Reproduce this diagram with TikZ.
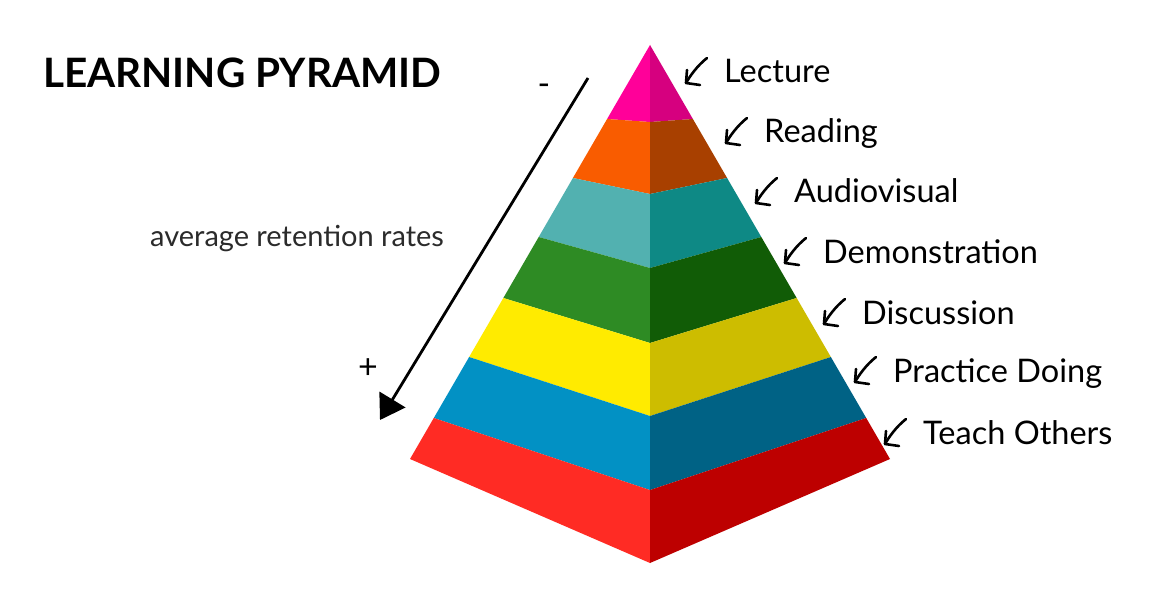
\documentclass[tikz,border=0pt]{standalone}
\usepackage{fontspec}
\setmainfont{Lato}
\usetikzlibrary{arrows.meta}
\definecolor{pinkL}{HTML}{FF0099}\definecolor{pinkR}{HTML}{D6007F}
\definecolor{oranL}{HTML}{F95C00}\definecolor{oranR}{HTML}{A84000}
\definecolor{tealL}{HTML}{52B1B0}\definecolor{tealR}{HTML}{0E8985}
\definecolor{grenL}{HTML}{2E8B24}\definecolor{grenR}{HTML}{115C06}
\definecolor{yellL}{HTML}{FFEB00}\definecolor{yellR}{HTML}{CDBD00}
\definecolor{blueL}{HTML}{0291C4}\definecolor{blueR}{HTML}{006285}
\definecolor{redL}{HTML}{FF2B24}\definecolor{redR}{HTML}{BD0000}
\definecolor{subgray}{HTML}{2B2B2B}
% #1 top edge y, #2 top centre y, #3 bottom edge y, #4 bottom centre y, #5 left colour, #6 right colour
\newcommand\pyrlayer[6]{%
  \fill[#5] ({650-0.5797*(#1-45)},#1) -- (650,#2) -- (650,#4) -- ({650-0.5797*(#3-45)},#3) -- cycle;
  \fill[#6] ({650+0.5797*(#1-45)},#1) -- (650,#2) -- (650,#4) -- ({650+0.5797*(#3-45)},#3) -- cycle;
}
\tikzset{
  lbl/.style={anchor=base west, inner sep=0pt, font=\fontsize{32.5}{38}\selectfont, text=black},
  hand/.style={line width=2.6pt, line cap=round, line join=round, black},
}
\newcommand\handarrow[1]{%
  \draw[hand] ([shift={(-17,-25)}]#1.base west) .. controls ([shift={(-27,-17)}]#1.base west) and ([shift={(-34,-7)}]#1.base west) .. ([shift={(-38,0)}]#1.base west);
  \draw[hand] ([shift={(-37,-13)}]#1.base west) -- ([shift={(-38,0)}]#1.base west) -- ([shift={(-24,2)}]#1.base west);
}
\begin{document}
\begin{tikzpicture}[x=1pt,y=-1pt]
\useasboundingbox (0,0) rectangle (1152,615);
\fill[white] (0,0) rectangle (1152,615);
% pyramid layers
\pyrlayer{45}{45}{119}{122}{pinkL}{pinkR}
\pyrlayer{119}{122}{178}{194}{oranL}{oranR}
\pyrlayer{178}{194}{237}{268}{tealL}{tealR}
\pyrlayer{237}{268}{298}{343}{grenL}{grenR}
\pyrlayer{298}{343}{357}{416}{yellL}{yellR}
\pyrlayer{357}{416}{418}{490}{blueL}{blueR}
\pyrlayer{418}{490}{459}{563}{redL}{redR}
% title and side text
\node[anchor=base west, inner sep=0pt, font=\fontsize{40.5}{46}\bfseries\selectfont] (title) at (43,88) {LEARNING PYRAMID};
\node[anchor=base west, inner sep=0pt, font=\fontsize{29}{34}\selectfont, text=subgray] (avg) at (150,246) {average retention rates};
\node[inner sep=0pt, font=\fontsize{34}{40}\selectfont] (minus) at (544,90) {-};
\node[inner sep=0pt, font=\fontsize{34}{40}\selectfont] (plus) at (368,369) {+};
\coordinate (as) at (588,78);
\coordinate (ae) at (380,420);
\draw[line width=2.8pt, -{Triangle[length=24pt,width=30pt]}] (as) -- (ae);
% labels
\node[lbl] (l1) at (724,83) {Lecture};
\node[lbl] (l2) at (764,143) {Reading};
\node[lbl] (l3) at (794,203) {Audiovisual};
\node[lbl] (l4) at (823,263) {Demonstration};
\node[lbl] (l5) at (862,324) {Discussion};
\node[lbl] (l6) at (893,382) {Practice Doing};
\node[lbl] (l7) at (923,444) {Teach Others};
\foreach \n in {l1,l2,l3,l4,l5,l6,l7}{\handarrow{\n}}
\end{tikzpicture}
\end{document}
